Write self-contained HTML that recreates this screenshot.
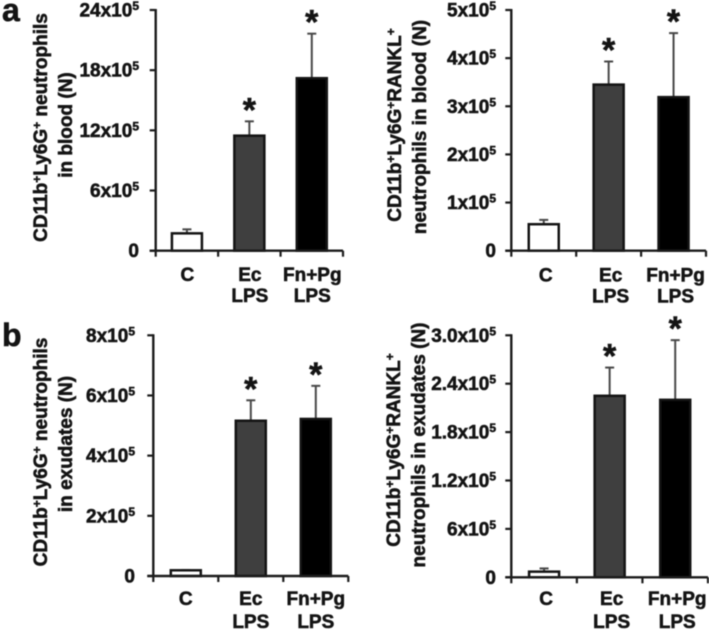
<!DOCTYPE html>
<html>
<head>
<meta charset="utf-8">
<title>Neutrophil counts in blood and exudates</title>
<style>
html,body{margin:0;padding:0;background:#fff;}
svg{display:block;filter:blur(0.4px);}
text{font-family:"Liberation Sans",sans-serif;font-weight:bold;fill:#141414;stroke:#141414;stroke-width:0.55px;}
</style>
</head>
<body>
<svg id="figure" width="709" height="631" viewBox="0 0 709 631" xmlns="http://www.w3.org/2000/svg">
  <rect width="709" height="631" fill="#fff"/>
  <text x="2" y="21" font-size="32">a</text>
  <text x="2" y="346" font-size="32">b</text>

  <g font-size="19" text-anchor="middle">
    <text transform="translate(47,127.5) rotate(-90)">CD11b<tspan dy="-6" font-size="12">+</tspan><tspan dy="6">Ly6G</tspan><tspan dy="-6" font-size="12">+</tspan><tspan dy="6"> neutrophils</tspan></text>
    <text transform="translate(72,125) rotate(-90)">in blood (N)</text>
  </g>
  <g font-size="19" text-anchor="middle">
    <text transform="translate(401,125) rotate(-90)">CD11b<tspan dy="-6" font-size="12">+</tspan><tspan dy="6">Ly6G</tspan><tspan dy="-6" font-size="12">+</tspan><tspan dy="6">RANKL</tspan><tspan dy="-6" font-size="12">+</tspan></text>
    <text transform="translate(426,127) rotate(-90)">neutrophils in blood (N)</text>
  </g>
  <g font-size="19" text-anchor="middle">
    <text transform="translate(47,452) rotate(-90)">CD11b<tspan dy="-6" font-size="12">+</tspan><tspan dy="6">Ly6G</tspan><tspan dy="-6" font-size="12">+</tspan><tspan dy="6"> neutrophils</tspan></text>
    <text transform="translate(72,444) rotate(-90)">in exudates (N)</text>
  </g>
  <g font-size="19" text-anchor="middle">
    <text transform="translate(400,450) rotate(-90)">CD11b<tspan dy="-6" font-size="12">+</tspan><tspan dy="6">Ly6G</tspan><tspan dy="-6" font-size="12">+</tspan><tspan dy="6">RANKL</tspan><tspan dy="-6" font-size="12">+</tspan></text>
    <text transform="translate(425,445) rotate(-90)">neutrophils in exudates (N)</text>
  </g>
</svg>
<script>
// Shared categories
const categories = [["C"], ["Ec", "LPS"], ["Fn+Pg", "LPS"]];
const starred = [false, true, true];

// Panel a, left: CD11b+Ly6G+ neutrophils in blood (x10^5)
const bloodTicks = [0, 6, 12, 18, 24];
const bloodTickLabels = ["0", "6x10^5", "12x10^5", "18x10^5", "24x10^5"];
const bloodValues = [1.73, 11.47, 17.2];
const bloodErrorTops = [2.13, 12.9, 21.64];

// Panel a, right: CD11b+Ly6G+RANKL+ neutrophils in blood (x10^5)
const bloodRanklTicks = [0, 1, 2, 3, 4, 5];
const bloodRanklTickLabels = ["0", "1x10^5", "2x10^5", "3x10^5", "4x10^5", "5x10^5"];
const bloodRanklValues = [0.55, 3.45, 3.19];
const bloodRanklErrorTops = [0.64, 3.93, 4.52];

// Panel b, left: CD11b+Ly6G+ neutrophils in exudates (x10^5)
const exudateTicks = [0, 2, 4, 6, 8];
const exudateTickLabels = ["0", "2x10^5", "4x10^5", "6x10^5", "8x10^5"];
const exudateValues = [0.19, 5.16, 5.22];
const exudateErrorTops = [0.2, 5.84, 6.32];

// Panel b, right: CD11b+Ly6G+RANKL+ neutrophils in exudates (x10^5)
const exudateRanklTicks = [0, 0.6, 1.2, 1.8, 2.4, 3.0];
const exudateRanklTickLabels = ["0", "6x10^5", "1.2x10^5", "1.8x10^5", "2.4x10^5", "3.0x10^5"];
const exudateRanklValues = [0.07, 2.25, 2.2];
const exudateRanklErrorTops = [0.11, 2.6, 2.94];

const barFills = ["#ffffff", "#3f3f3f", "#000000"];
const NS = "http://www.w3.org/2000/svg";
const figure = document.getElementById("figure");

function make(parent, tag, props) {
  const el = document.createElementNS(NS, tag);
  for (const key in props) el.setAttribute(key, props[key]);
  parent.appendChild(el);
  return el;
}

function line(parent, x1, y1, x2, y2, color, width) {
  return make(parent, "line", {x1: x1, y1: y1, x2: x2, y2: y2, stroke: color, "stroke-width": width});
}

function drawChart(name, layout, ticks, tickLabels, values, errorTops) {
  const g = make(figure, "g", {});
  
  

  const maxTick = ticks[ticks.length - 1];
  const yOf = v => layout.bottom - (v / maxTick) * (layout.bottom - layout.top);
  const band = (layout.right - layout.left) / categories.length;
  const xOf = i => layout.left + band * (i + 0.5);
  const barWidth = 30;

  // bars and error bars
  values.forEach((value, i) => {
    const cx = xOf(i);
    const errTop = yOf(errorTops[i]);
    const err = line(g, cx, yOf(value), cx, errTop, "#484848", 2);
    
    
    const cap = line(g, cx - 4.5, errTop, cx + 4.5, errTop, "#484848", 2);
    
    
    const bar = make(g, "rect", {
      x: cx - barWidth / 2, y: yOf(value), width: barWidth,
      height: layout.bottom - yOf(value),
      fill: barFills[i], stroke: "#141414", "stroke-width": 2.5
    });
    
    
    if (starred[i]) {
      const star = make(g, "text", {x: cx, y: errTop, "font-size": 34, "text-anchor": "middle"});
      star.textContent = "*";
      
      
    }
  });

  // axes
  const yAxis = line(g, layout.left, layout.top - 1, layout.left, layout.bottom + 1, "#1c1c1c", 2.4);
  
  
  const xAxis = line(g, layout.left - 6, layout.bottom, layout.right, layout.bottom, "#1c1c1c", 2.4);
  
  

  // y ticks and labels
  ticks.forEach((tick, i) => {
    const y = yOf(tick);
    const mark = line(g, layout.left - 6, y, layout.left, y, "#1c1c1c", 2.2);
    
    
    const label = make(g, "text", {x: layout.labelRight, y: y + 6.5, "font-size": 19, "text-anchor": "end"});
    
    
    const parts = tickLabels[i].split("^");
    label.appendChild(document.createTextNode(parts[0]));
    if (parts[1]) {
      const sup = make(label, "tspan", {dy: -6.5, "font-size": 12});
      sup.textContent = parts[1];
    }
  });

  // x ticks and category labels
  for (let i = 0; i <= categories.length; i++) {
    const x = layout.left + band * i;
    const mark = line(g, x, layout.bottom, x, layout.bottom + 6, "#1c1c1c", 2.2);
    
    
  }
  categories.forEach((lines, i) => {
    lines.forEach((text, k) => {
      const label = make(g, "text", {
        x: xOf(i) + layout.labelShift,
        y: layout.catBaseline + k * layout.catLeading,
        "font-size": 19, "text-anchor": "middle"
      });
      label.textContent = text;
      
      
    });
  });
}

drawChart("chart-blood-neutrophils",
  {left: 155.7, right: 343, top: 10, bottom: 250.7, labelRight: 139, labelShift: 0.5, catBaseline: 281, catLeading: 21},
  bloodTicks, bloodTickLabels, bloodValues, bloodErrorTops);
drawChart("chart-blood-rankl-neutrophils",
  {left: 511.3, right: 706, top: 10, bottom: 250.7, labelRight: 496, labelShift: 2, catBaseline: 281.5, catLeading: 21},
  bloodRanklTicks, bloodRanklTickLabels, bloodRanklValues, bloodRanklErrorTops);
drawChart("chart-exudate-neutrophils",
  {left: 153.3, right: 348.3, top: 335.3, bottom: 576, labelRight: 135, labelShift: 0, catBaseline: 605, catLeading: 23},
  exudateTicks, exudateTickLabels, exudateValues, exudateErrorTops);
drawChart("chart-exudate-rankl-neutrophils",
  {left: 511.3, right: 708, top: 335.3, bottom: 577.3, labelRight: 496, labelShift: 2, catBaseline: 605, catLeading: 23},
  exudateRanklTicks, exudateRanklTickLabels, exudateRanklValues, exudateRanklErrorTops);
</script>
</body>
</html>
